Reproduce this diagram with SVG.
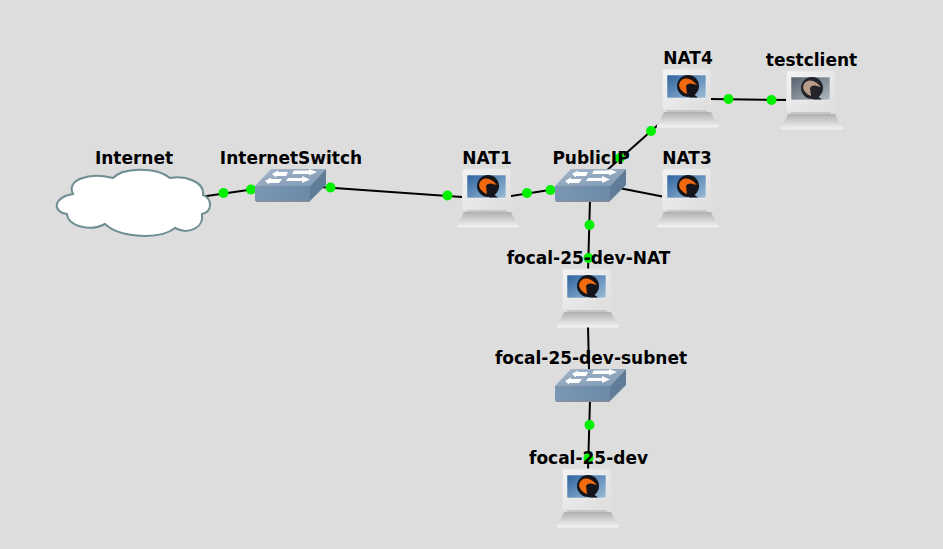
<svg xmlns="http://www.w3.org/2000/svg" width="943" height="549" viewBox="0 0 943 549">
<style>
.lbl{font-family:"DejaVu Sans",sans-serif;font-weight:bold;font-size:17px;fill:#000;text-anchor:middle}
.link{stroke:#000;stroke-width:2;fill:none}
.dot{fill:#00f000}
</style>
<defs>
<linearGradient id="mon" x1="0" y1="0" x2="1" y2="1"><stop offset="0" stop-color="#f4f4f4"/><stop offset="1" stop-color="#dcdcdc"/></linearGradient>
<linearGradient id="base" x1="0" y1="0" x2="0" y2="1"><stop offset="0" stop-color="#b0b0b0"/><stop offset="0.55" stop-color="#d6d6d6"/><stop offset="1" stop-color="#f4f4f4"/></linearGradient>
<linearGradient id="scr" x1="0" y1="0" x2="1" y2="1"><stop offset="0" stop-color="#2f65a0"/><stop offset="1" stop-color="#9cbcd6"/></linearGradient>
<linearGradient id="scrg" x1="0" y1="0" x2="1" y2="1"><stop offset="0" stop-color="#56626e"/><stop offset="1" stop-color="#aeb8c0"/></linearGradient>
<linearGradient id="top" x1="0" y1="0" x2="1" y2="1"><stop offset="0" stop-color="#a5b7c9"/><stop offset="1" stop-color="#7f98b3"/></linearGradient>
<linearGradient id="front" x1="0" y1="0" x2="1" y2="0"><stop offset="0" stop-color="#7a96b2"/><stop offset="1" stop-color="#6c8aa8"/></linearGradient>
<g id="pcbody">
<rect x="6.500" y="1" width="48" height="41" rx="2.500" fill="url(#mon)" stroke="#e4e4e4" stroke-width="1"/>
<path d="M8 44H55C57 49 60 53 63 57Q64 59 61 59.500H3Q0 59 1 57C3 53 6 49 8 44Z" fill="url(#base)"/>
<rect x="11" y="42" width="40" height="2" fill="#c6c6c6"/>
</g>
<g id="bubble"><circle cx="32" cy="18" r="11"/><path d="M36 25l6 4.500h-9z"/></g>
<path id="bird" d="M23 18Q23 12 29 10.500Q34 10 38 14L41 17L35 15.500Q31 15 30 18L31 26Q25 24 23 18Z"/>
<g id="pc">
<use href="#pcbody"/>
<rect x="11" y="7" width="39" height="23" fill="url(#scr)" stroke="#f8f8f8" stroke-width="0.500"/>
<use href="#bubble" fill="#14141a"/>
<use href="#bird" fill="#f26a0f"/>
</g>
<g id="pcgray">
<use href="#pcbody"/>
<rect x="11" y="7" width="39" height="23" fill="url(#scrg)" stroke="#f8f8f8" stroke-width="0.500"/>
<use href="#bubble" fill="#22242a"/>
<use href="#bird" fill="#b89b88"/>
</g>
<g id="sw">
<path d="M0 18L16 1H71L55 18Z" fill="url(#top)"/>
<path d="M55 18L71 1V17L55 33Z" fill="#5f7c99"/>
<rect x="0" y="18" width="55" height="15" fill="url(#front)"/>
<rect x="1" y="33" width="54" height="1" fill="#8b8f94"/>
<g fill="#fff">
<path d="M10 13L16 9.500V11H27L24 15H14V16.500Z"/>
<path d="M33 10H47V8L55 11.500L47 15V13H31Z"/>
<path d="M17 6L23 2.500V4H33L31 8H21V9.500Z"/>
<path d="M39 2.500H54V1L62 4L54 7.500V6H37Z"/>
</g>
</g>
</defs>
<rect width="943" height="549" fill="#dddddd"/>
<g id="connectors">
<path class="link" d="M200 197L255 189"/>
<path class="link" d="M320 187L462 197"/>
<path class="link" d="M505 197L556 189"/>
<path class="link" d="M605 172L668 116"/>
<path class="link" d="M619 188L665 197"/>
<path class="link" d="M590 200L588 272"/>
<path class="link" d="M588 326L589 369"/>
<path class="link" d="M590 400L588 470"/>
<path class="link" d="M710 99L790 100"/>
<g class="dots">
<circle class="dot" cx="223.500" cy="193" r="5"/><circle class="dot" cx="251" cy="189.500" r="5"/>
<circle class="dot" cx="330.500" cy="187.500" r="5"/><circle class="dot" cx="447.500" cy="195.500" r="5"/>
<circle class="dot" cx="527" cy="193" r="5"/><circle class="dot" cx="550.500" cy="190" r="5"/>
<circle class="dot" cx="620" cy="158" r="5"/><circle class="dot" cx="651" cy="131" r="5"/>
<circle class="dot" cx="589.500" cy="225" r="5"/><circle class="dot" cx="588.500" cy="258" r="5"/>
<circle class="dot" cx="589.500" cy="425" r="5"/><circle class="dot" cx="588.500" cy="458" r="5"/>
<circle class="dot" cx="728.500" cy="99" r="5"/><circle class="dot" cx="771.500" cy="100" r="5"/>
</g>
</g>
<g id="Internet">
<path d="M73 194C66 180 88 172 113 178C122 168 155 166 170 178C185 175 205 182 203 195C213 199 212 212 202 214C204 228 188 235 175 228C160 240 120 238 105 224C90 232 68 226 67 214C52 212 53 197 73 194Z" fill="#fff" stroke="#6f8f93" stroke-width="2"/>
<text class="lbl" x="134" y="164">Internet</text>
</g>
<g id="InternetSwitch"><use href="#sw" x="255" y="168"/><text class="lbl" x="291" y="164">InternetSwitch</text></g>
<g id="NAT1"><use href="#pc" x="456" y="168"/><text class="lbl" x="487" y="164">NAT1</text></g>
<g id="PublicIP"><use href="#sw" x="555" y="168"/><text class="lbl" x="591" y="164">PublicIP</text></g>
<g id="NAT3"><use href="#pc" x="656" y="168"/><text class="lbl" x="687" y="164">NAT3</text></g>
<g id="NAT4"><use href="#pc" x="656" y="68"/><text class="lbl" x="688" y="64">NAT4</text></g>
<g id="testclient"><use href="#pcgray" x="780" y="70"/><text class="lbl" x="811.500" y="66">testclient</text></g>
<g id="focal-25-dev-NAT"><use href="#pc" x="556" y="268"/><text class="lbl" x="588.500" y="264">focal-25-dev-NAT</text></g>
<g id="focal-25-dev-subnet"><use href="#sw" x="555" y="368"/><text class="lbl" x="591" y="364">focal-25-dev-subnet</text></g>
<g id="focal-25-dev"><use href="#pc" x="556" y="468"/><text class="lbl" x="588.500" y="464">focal-25-dev</text></g>
</svg>
